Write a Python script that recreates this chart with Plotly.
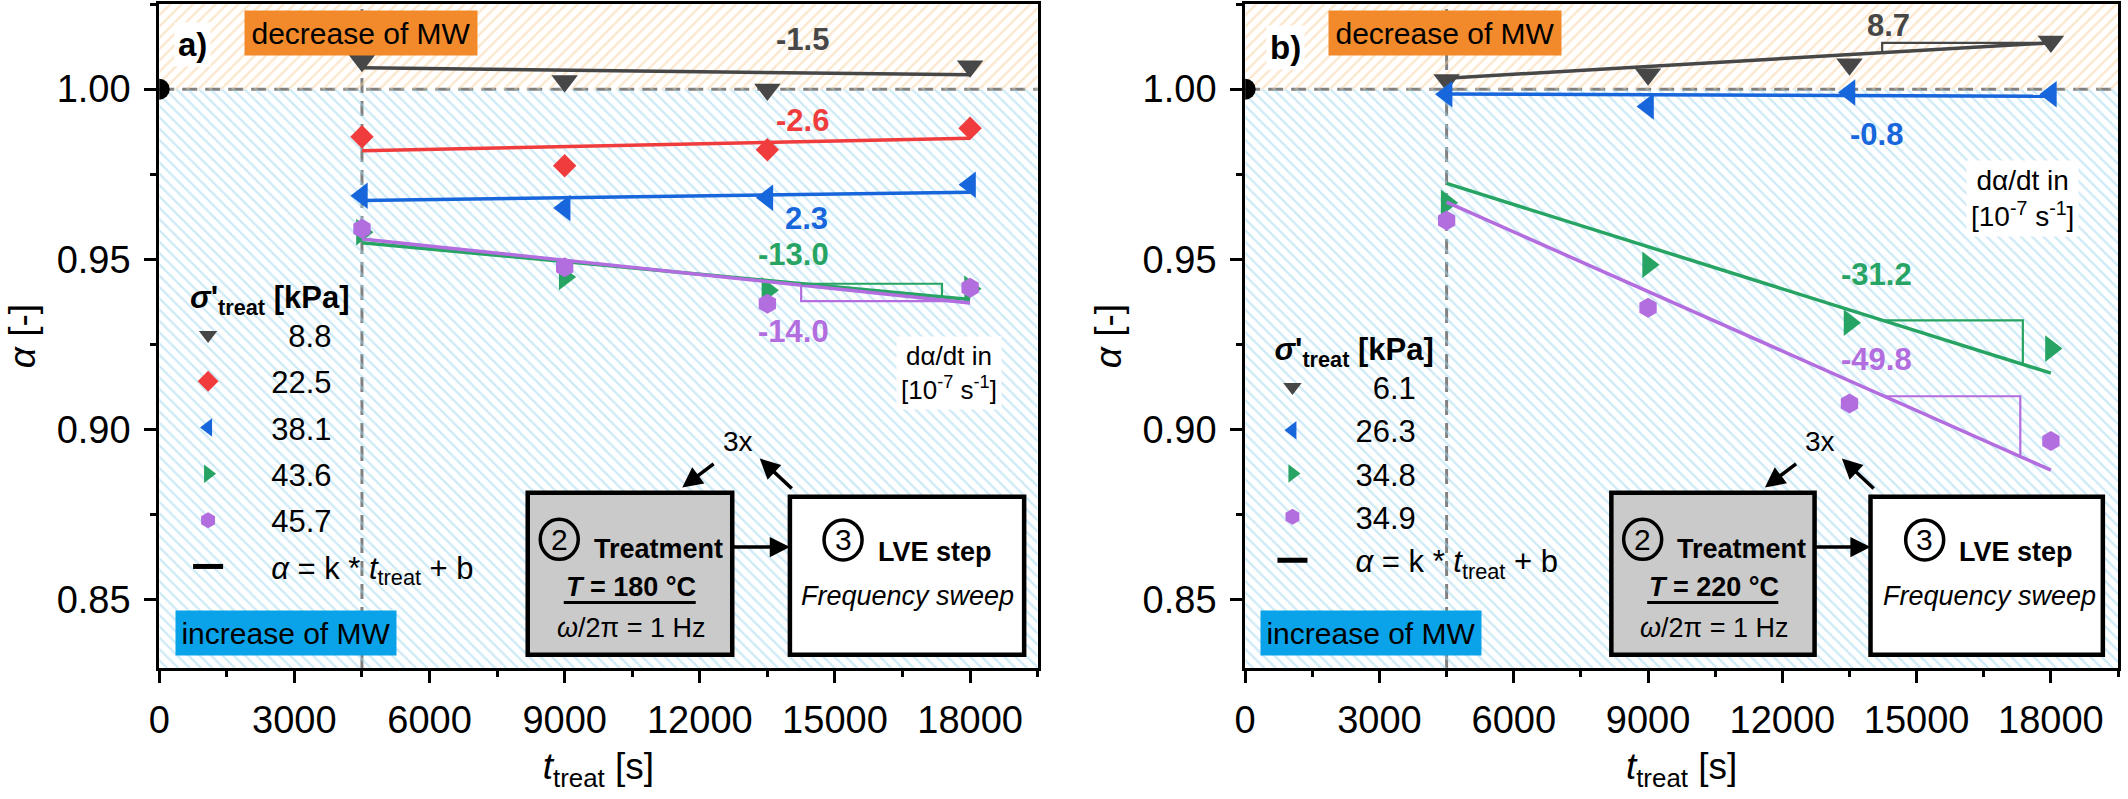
import numpy as np
import plotly.graph_objects as go

# ---------------- data ----------------
t_treat = [4500, 9000, 13500, 18000]          # s
t_fit = [4500, 18000]                         # span of the linear fits

# panel a)  T = 180 °C
stress_a = ["8.8", "22.5", "38.1", "43.6", "45.7"]
alpha_a_8_8 = [1.0083, 1.0024, 0.9999, 1.0067]
alpha_a_22_5 = [0.9860, 0.9775, 0.9822, 0.9885]
alpha_a_38_1 = [0.9687, 0.9651, 0.9681, 0.9719]
alpha_a_43_6 = [0.9580, 0.9448, 0.9409, 0.9414]
alpha_a_45_7 = [0.9590, 0.9477, 0.9370, 0.9417]
fit_a_8_8 = [1.0063, 1.0042]
fit_a_22_5 = [0.9819, 0.9856]
fit_a_38_1 = [0.9673, 0.9697]
fit_a_43_6 = [0.9549, 0.9382]
fit_a_45_7 = [0.9560, 0.9372]
slope_labels_a = ["-1.5", "-2.6", "2.3", "-13.0", "-14.0"]
slope_label_x_a = [14283, 14283, 14360, 14085, 14085]
slope_label_y_a = [1.0146, 0.9907, 0.9619, 0.9514, 0.9287]

# panel b)  T = 220 °C
stress_b = ["6.1", "26.3", "34.8", "34.9"]
alpha_b_6_1 = [1.0027, 1.0044, 1.0073, 1.0140]
alpha_b_26_3 = [0.9985, 0.9949, 0.9990, 0.9985]
alpha_b_34_8 = [0.9666, 0.9484, 0.9314, 0.9238]
alpha_b_34_9 = [0.9614, 0.9358, 0.9077, 0.8967]
fit_b_6_1 = [1.0032, 1.0136]
fit_b_26_3 = [0.9986, 0.9979]
fit_b_34_8 = [0.9723, 0.9166]
fit_b_34_9 = [0.9668, 0.8881]
slope_labels_b = ["8.7", "-0.8", "-31.2", "-49.8"]
slope_label_x_b = [14378, 14098, 14098, 14098]
slope_label_y_b = [1.0186, 0.9868, 0.9456, 0.9207]

# slope triangles: (series index, x start, x end, side)
tri_a = [(3, 14250, 17376, "above"), (4, 14250, 17600, "below")]
tri_b = [(0, 14230, 18000, "above"), (2, 14240, 17373, "above"), (3, 14276, 17316, "above")]

X_RANGE = [0, 19500]
Y_RANGE = [0.83, 1.025]
REF_ALPHA = 1.0
REF_T = 4500

# ---------------- style ----------------
FONT = "Liberation Sans, Arial, sans-serif"
W, H = 2128, 799
C_GRAY, C_RED, C_BLUE, C_GREEN, C_PURPLE = "#474747", "#F03C3C", "#1766DB", "#27A463", "#B26DDF"

series_a = [
    (stress_a[0], alpha_a_8_8, fit_a_8_8, C_GRAY, "triangle-down", 23),
    (stress_a[1], alpha_a_22_5, fit_a_22_5, C_RED, "diamond", 18),
    (stress_a[2], alpha_a_38_1, fit_a_38_1, C_BLUE, "triangle-left", 23),
    (stress_a[3], alpha_a_43_6, fit_a_43_6, C_GREEN, "triangle-right", 23),
    (stress_a[4], alpha_a_45_7, fit_a_45_7, C_PURPLE, "hexagon", 20),
]
series_b = [
    (stress_b[0], alpha_b_6_1, fit_b_6_1, C_GRAY, "triangle-down", 23),
    (stress_b[1], alpha_b_26_3, fit_b_26_3, C_BLUE, "triangle-left", 23),
    (stress_b[2], alpha_b_34_8, fit_b_34_8, C_GREEN, "triangle-right", 23),
    (stress_b[3], alpha_b_34_9, fit_b_34_9, C_PURPLE, "hexagon", 20),
]

NB = "\u00a0"

fig = go.Figure()


def add_panel(series, labels, lx, ly, tris, xa, ya, legend_name):
    # hatched backgrounds
    fig.add_trace(go.Scatter(
        x=[X_RANGE[0], X_RANGE[1], X_RANGE[1], X_RANGE[0], X_RANGE[0]],
        y=[REF_ALPHA, REF_ALPHA, Y_RANGE[1], Y_RANGE[1], REF_ALPHA],
        fill="toself", mode="none", xaxis=xa, yaxis=ya, showlegend=False, hoverinfo="skip",
        fillpattern=dict(shape="/", fgcolor="#F8CF9C", bgcolor="rgba(0,0,0,0)", size=8, solidity=0.3)))
    fig.add_trace(go.Scatter(
        x=[X_RANGE[0], X_RANGE[1], X_RANGE[1], X_RANGE[0], X_RANGE[0]],
        y=[Y_RANGE[0], Y_RANGE[0], REF_ALPHA, REF_ALPHA, Y_RANGE[0]],
        fill="toself", mode="none", xaxis=xa, yaxis=ya, showlegend=False, hoverinfo="skip",
        fillpattern=dict(shape="\\", fgcolor="#9ED6EE", bgcolor="rgba(0,0,0,0)", size=8, solidity=0.3)))
    # black half dot on the y axis at alpha = 1
    fig.add_trace(go.Scatter(x=[X_RANGE[0]], y=[REF_ALPHA], mode="markers", xaxis=xa, yaxis=ya,
                             marker=dict(color="black", size=21), cliponaxis=True, showlegend=False,
                             hoverinfo="skip"))
    for i, (name, vals, fit, col, sym, msz) in enumerate(series):
        pad = NB * 5 + (NB * 2 if len(name) == 3 else "")
        fig.add_trace(go.Scatter(x=t_treat, y=vals, mode="markers", xaxis=xa, yaxis=ya,
                                 marker=dict(symbol=sym, color=col, size=msz, line=dict(width=0)),
                                 name=pad + name, legend=legend_name, legendgroup=f"{legend_name}{i}"))
        fig.add_trace(go.Scatter(x=t_fit, y=fit, mode="lines", xaxis=xa, yaxis=ya,
                                 line=dict(color=col, width=3.5), showlegend=False, hoverinfo="skip"))
    # slope triangles
    for idx, x1, x2, side in tris:
        fit = series[idx][2]
        col = series[idx][3]
        y1 = float(np.interp(x1, t_fit, fit))
        y2 = float(np.interp(x2, t_fit, fit))
        if side == "above":
            corner = (x2, y1) if y1 > y2 else (x1, y2)
        else:
            corner = (x1, y2) if y1 > y2 else (x2, y1)
        fig.add_trace(go.Scatter(x=[x1, corner[0], x2], y=[y1, corner[1], y2], mode="lines",
                                 xaxis=xa, yaxis=ya, line=dict(color=col, width=2.2),
                                 showlegend=False, hoverinfo="skip"))
    # legend entry for the fit
    fig.add_trace(go.Scatter(x=[None], y=[None], mode="lines", xaxis=xa, yaxis=ya,
                             line=dict(color="black", width=5),
                             name=NB * 5 + "<i>α</i> = k * <i>t</i><sub>treat</sub> + b",
                             legend=legend_name, legendgroup=f"{legend_name}fit"))
    # slope labels
    for i, (txt, x, y) in enumerate(zip(labels, lx, ly)):
        fig.add_annotation(x=x, y=y, xref=xa, yref=ya, text=f"<b>{txt}</b>", showarrow=False,
                           font=dict(size=31, color=series[i][3], family=FONT))


add_panel(series_a, slope_labels_a, slope_label_x_a, slope_label_y_a, tri_a, "x", "y", "legend")
add_panel(series_b, slope_labels_b, slope_label_x_b, slope_label_y_b, tri_b, "x2", "y2", "legend2")

shapes = []
panels = [("x", "y", "a)", 746, 1.0132, "180", 17530, 0.9167, 26, 14000, 19200),
          ("x2", "y2", "b)", 910, 1.0123, "220", 17360, 0.9678, 28, 13970, 19160)]
for xa, ya, tag, tagx, tagy, temp, dx, dy, dsz, wx0, wx1 in panels:
    xd = xa + " domain"
    yd = ya + " domain"
    # reference lines
    shapes.append(dict(type="line", xref=xd, yref=ya, x0=0, x1=1, y0=REF_ALPHA, y1=REF_ALPHA,
                       line=dict(color="#808080", width=3, dash="15px,8px"), layer="below"))
    shapes.append(dict(type="line", xref=xa, yref=yd, x0=REF_T, x1=REF_T, y0=0, y1=1,
                       line=dict(color="#808080", width=3, dash="15px,8px"), layer="below"))
    # process boxes
    shapes.append(dict(type="rect", xref=xa, yref=ya, x0=8180, x1=12720, y0=0.8339, y1=0.8815,
                       fillcolor="#CACACA", line=dict(color="black", width=4.5), layer="above"))
    shapes.append(dict(type="rect", xref=xa, yref=ya, x0=wx0, x1=wx1, y0=0.8339, y1=0.8803,
                       fillcolor="white", line=dict(color="black", width=4.5), layer="above"))
    shapes.append(dict(type="line", xref=xa, yref=ya, x0=8980, x1=11910, y0=0.8492, y1=0.8492,
                       line=dict(color="black", width=3), layer="above"))
    for cx, cy in [(8880, 0.8678), (15180, 0.8676)]:
        shapes.append(dict(type="circle", xref=xa, yref=ya, xsizemode="pixel", ysizemode="pixel",
                           xanchor=cx, yanchor=cy, x0=-19, x1=19, y0=-20, y1=20,
                           line=dict(color="black", width=3.5), layer="above"))

    def A(text, x, y, size=27, **kw):
        d = dict(x=x, y=y, xref=xa, yref=ya, text=text, showarrow=False,
                 font=dict(size=size, color="black", family=FONT))
        d.update(kw)
        fig.add_annotation(**d)

    A(f"<b>{tag}</b>", tagx, tagy, size=33, bgcolor="white", borderpad=3)
    A("decrease of MW", 4470, 1.0166, size=30, bgcolor="#F28A2B", width=230, height=42)
    A("increase of MW", 2805, 0.8402, size=30, bgcolor="#0AA3E9", width=218, height=42)
    A("dα/dt in<br>[10<sup>-7</sup> s<sup>-1</sup>]", dx, dy, size=dsz, bgcolor="white", borderpad=4)
    A("2", 8880, 0.8678, size=30)
    A("3", 15180, 0.8676, size=30)
    A("<b>Treatment</b>", 11090, 0.8650)
    A(f"<b><i>T</i> = {temp} °C</b>", 10470, 0.8537)
    A("<i>ω</i>/2π = 1 Hz", 10470, 0.8418)
    A("<b>LVE step</b>", 17230, 0.8640)
    A("<i>Frequency sweep</i>", 16620, 0.8512)
    A("3x", 12840, 0.8965, size=28)
    # process arrows
    for (sx, sy), (tx, ty) in [((12340, 0.8903), (11610, 0.8830)),
                               ((14075, 0.8823), (13330, 0.8915)),
                               ((12720, 0.8655), (wx0, 0.8655))]:
        fig.add_annotation(x=tx, y=ty, ax=sx, ay=sy, xref=xa, yref=ya, axref=xa, ayref=ya,
                           text="", showarrow=True, arrowhead=2, arrowsize=1.15, arrowwidth=3.5,
                           arrowcolor="black", standoff=0, startstandoff=0)

axis_common = dict(showline=True, linecolor="black", linewidth=3, mirror=True, ticks="outside",
                   ticklen=12, tickwidth=3, tickcolor="black", showgrid=False, zeroline=False,
                   tickfont=dict(family=FONT, size=38, color="black"))
xaxis_cfg = dict(axis_common, range=X_RANGE, tick0=0, dtick=3000, tickformat="d",
                 minor=dict(dtick=1500, ticks="outside", ticklen=6, tickwidth=3, tickcolor="black"),
                 title=dict(text="<i>t</i><sub>treat</sub> [s]", font=dict(family=FONT, size=37, color="black"),
                            standoff=14),
                 ticklabelstandoff=4)
yaxis_cfg = dict(axis_common, range=Y_RANGE, tick0=0, dtick=0.05, tickformat=".2f",
                 minor=dict(dtick=0.025, ticks="outside", ticklen=6, tickwidth=3, tickcolor="black"),
                 title=dict(text="<i>α</i> [-]", font=dict(family=FONT, size=37, color="black"), standoff=10),
                 ticklabelstandoff=6)

legend_common = dict(xanchor="left", yanchor="top", bgcolor="rgba(0,0,0,0)", borderwidth=0,
                     font=dict(family=FONT, size=31, color="black"), itemwidth=30,
                     title=dict(text="<b><i>σ</i>'<sub>treat</sub> [kPa]</b>",
                                font=dict(family=FONT, size=31, color="black")))

fig.update_layout(
    width=W, height=H, margin=dict(l=0, r=0, t=0, b=0), autosize=False,
    paper_bgcolor="white", plot_bgcolor="white", font=dict(family=FONT, color="black"),
    xaxis=dict(xaxis_cfg, domain=[149 / W, 1032 / W], anchor="y"),
    yaxis=dict(yaxis_cfg, domain=[1 - 668 / H, 1 - 4 / H], anchor="x"),
    xaxis2=dict(xaxis_cfg, domain=[1240.6 / W, 2118 / W], anchor="y2"),
    yaxis2=dict(yaxis_cfg, domain=[1 - 668 / H, 1 - 4 / H], anchor="x2"),
    legend=dict(legend_common, x=178 / W, y=1 - 268 / H, tracegroupgap=3),
    legend2=dict(legend_common, x=1268 / W, y=1 - 320 / H, tracegroupgap=0),
    shapes=shapes,
    showlegend=True,
)

fig.write_html("out.html", config={"displayModeBar": False},
               post_script="document.body.style.margin='0';document.body.style.overflow='hidden';")
